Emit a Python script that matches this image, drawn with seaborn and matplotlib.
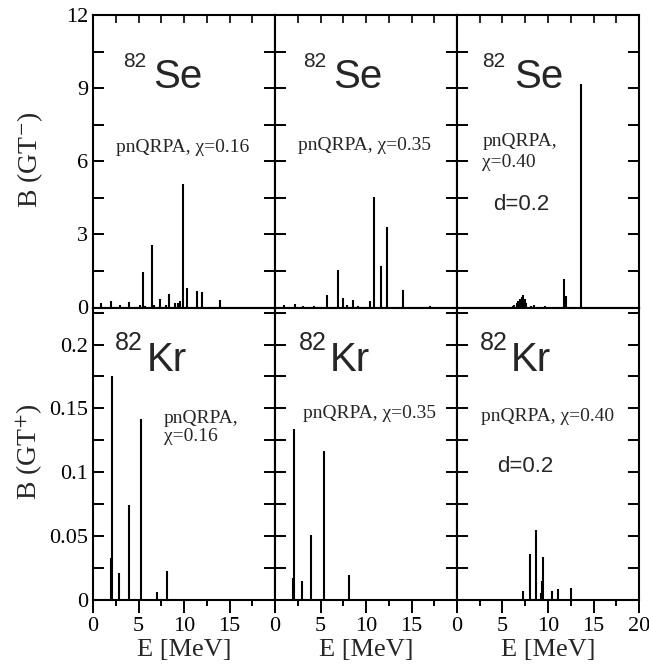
import matplotlib
matplotlib.use("Agg")
import matplotlib.pyplot as plt
from matplotlib.ticker import MultipleLocator, FixedLocator, FixedFormatter
import numpy as np
import pandas as pd
import seaborn as sns

# ---------------- data ----------------
nuclei = ["Se", "Kr"]
chis = ["0.16", "0.35", "0.40"]

se_016_E = [0.88, 1.98, 2.93, 4.0, 5.2, 5.46, 5.75, 6.48, 6.7, 7.33, 8.0, 8.35, 9.05, 9.34, 9.52, 9.93, 10.33, 11.43, 11.94, 13.92]
se_016_B = [0.19, 0.25, 0.12, 0.22, 0.10, 1.47, 0.07, 2.58, 0.12, 0.34, 0.10, 0.55, 0.18, 0.18, 0.25, 5.05, 0.79, 0.67, 0.63, 0.30]

se_035_E = [1.03, 2.16, 3.08, 4.25, 5.75, 6.96, 7.47, 7.88, 8.53, 9.12, 10.4, 10.92, 11.68, 12.27, 14.1, 17.0]
se_035_B = [0.11, 0.14, 0.05, 0.08, 0.50, 1.55, 0.40, 0.10, 0.29, 0.07, 0.26, 4.53, 1.72, 3.32, 0.71, 0.05]

se_040_E = [6.13, 6.3, 6.56, 6.67, 6.92, 7.03, 7.14, 7.29, 7.44, 7.55, 8.17, 8.46, 9.63, 11.76, 11.98, 13.66]
se_040_B = [0.05, 0.10, 0.20, 0.25, 0.35, 0.35, 0.45, 0.53, 0.35, 0.20, 0.07, 0.10, 0.05, 1.15, 0.46, 9.16]

kr_016_E = [1.94, 2.09, 2.89, 3.96, 5.24, 7.07, 8.1]
kr_016_B = [0.033, 0.175, 0.021, 0.074, 0.142, 0.006, 0.023]

kr_035_E = [1.98, 2.12, 2.93, 3.92, 5.35, 8.17]
kr_035_B = [0.017, 0.134, 0.015, 0.051, 0.117, 0.0195]

kr_040_E = [7.29, 8.06, 8.72, 9.23, 9.38, 9.5, 10.44, 11.06, 12.49]
kr_040_B = [0.007, 0.036, 0.055, 0.0052, 0.015, 0.034, 0.007, 0.009, 0.0094]

top_yticks = [0, 3, 6, 9, 12]
bot_yticks = [0, 0.05, 0.1, 0.15, 0.2]
bot_yticklabels = ["0", "0.05", "0.1", "0.15", "0.2"]
xticks = [0, 5, 10, 15, 20]

series = [
    ("Se", "0.16", se_016_E, se_016_B),
    ("Se", "0.35", se_035_E, se_035_B),
    ("Se", "0.40", se_040_E, se_040_B),
    ("Kr", "0.16", kr_016_E, kr_016_B),
    ("Kr", "0.35", kr_035_E, kr_035_B),
    ("Kr", "0.40", kr_040_E, kr_040_B),
]
frames = []
for nuc, chi, E, B in series:
    frames.append(pd.DataFrame({"nucleus": nuc, "chi": chi, "E": E, "B": B}))
df = pd.concat(frames, ignore_index=True)

# ---------------- style ----------------
sns.set_theme(style="ticks")
plt.rcParams["font.family"] = ["Liberation Serif", "DejaVu Serif"]
plt.rcParams["mathtext.fontset"] = "stix"
plt.rcParams["axes.linewidth"] = 1.5

W, H = 6.49, 6.69
g = sns.FacetGrid(df, row="nucleus", col="chi", row_order=nuclei, col_order=chis,
                  sharex=False, sharey=False, height=H / 2, aspect=(W / 3) / (H / 2),
                  despine=False, gridspec_kws={"wspace": 0, "hspace": 0})


def stems(data, color=None, **kw):
    ax = plt.gca()
    ax.vlines(data["E"], 0, data["B"], colors="black", linewidth=1.5)


g.map_dataframe(stems)
g.figure.subplots_adjust(left=93 / 649, right=639 / 649, top=1 - 15 / 669,
                         bottom=1 - 600 / 669, wspace=0, hspace=0)

for ax in g.axes.flat:
    ax.set_title("")
    ax.set_xlabel("")
    ax.set_ylabel("")
    for s in ax.spines.values():
        s.set_linewidth(1.5)
        s.set_color("black")

for i, row in enumerate(g.axes):
    for j, ax in enumerate(row):
        ax.set_xlim(0, 20)
        ax.xaxis.set_major_locator(FixedLocator(xticks))
        ax.xaxis.set_minor_locator(MultipleLocator(2.5))
        if i == 0:
            ax.set_ylim(0, 12)
            ax.yaxis.set_major_locator(FixedLocator(top_yticks))
            ax.yaxis.set_minor_locator(MultipleLocator(1.5))
            ax.tick_params(axis="x", which="both", top=True, bottom=False,
                           direction="in", labelbottom=False, labeltop=False)
            ax.tick_params(axis="x", which="major", length=6, width=1.4)
            ax.tick_params(axis="x", which="minor", length=6, width=1.4)
        else:
            ax.set_ylim(0, 0.229)
            ax.yaxis.set_major_locator(FixedLocator(bot_yticks))
            ax.yaxis.set_major_formatter(FixedFormatter(bot_yticklabels))
            ax.yaxis.set_minor_locator(MultipleLocator(0.025))
            labs = ["0", "5", "10", "15", "20" if j == 2 else ""]
            ax.xaxis.set_major_formatter(FixedFormatter(labs))
            ax.tick_params(axis="x", which="both", top=False, bottom=True,
                           direction="out", labelbottom=True, labelsize=16,
                           pad=3, colors="black")
            ax.tick_params(axis="x", which="major", length=9, width=1.4)
            ax.tick_params(axis="x", which="minor", length=4, width=1.4)
        ax.tick_params(axis="y", which="both", left=True, right=True,
                       direction="in", length=8, width=1.4,
                       labelleft=(j == 0), labelright=False, labelsize=16,
                       colors="black")
        ax.tick_params(axis="y", which="minor", length=8)

# ---------------- annotations ----------------
sans = ["Liberation Sans", "DejaVu Sans"]
se_pos = [(0.165, 0.333), (0.155, 0.317), (0.138, 0.315)]
kr_pos = [(0.122, 0.295), (0.130, 0.299), (0.124, 0.293)]
for j in range(3):
    ax = g.axes[0][j]
    x82, xs = se_pos[j]
    ax.text(x82, 0.822, "82", transform=ax.transAxes, fontsize=15, family=sans,
            va="baseline", ha="left")
    ax.text(xs, 0.75, "Se", transform=ax.transAxes, fontsize=29, family=sans,
            va="baseline", ha="left")
    ax = g.axes[1][j]
    x82, xs = kr_pos[j]
    ax.text(x82, 0.854, "82", transform=ax.transAxes, fontsize=18, family=sans,
            va="baseline", ha="left")
    ax.text(xs, 0.782, "Kr", transform=ax.transAxes, fontsize=29, family=sans,
            va="baseline", ha="left")

txt = dict(fontsize=14, va="baseline", ha="left")
a = g.axes
a[0][0].text(0.126, 0.533, "pnQRPA, χ=0.16", transform=a[0][0].transAxes, **txt)
a[0][1].text(0.128, 0.539, "pnQRPA, χ=0.35", transform=a[0][1].transAxes, **txt)
a[0][2].text(0.140, 0.553, "pnQRPA,", transform=a[0][2].transAxes, **txt)
a[0][2].text(0.140, 0.482, "χ=0.40", transform=a[0][2].transAxes, **txt)
a[0][2].text(0.196, 0.334, "d=0.2", transform=a[0][2].transAxes, fontsize=16,
             family=sans, va="baseline", ha="left")
a[1][0].text(0.390, 0.605, "pnQRPA,", transform=a[1][0].transAxes, **txt)
a[1][0].text(0.390, 0.542, "χ=0.16", transform=a[1][0].transAxes, **txt)
a[1][1].text(0.155, 0.622, "pnQRPA, χ=0.35", transform=a[1][1].transAxes, **txt)
a[1][2].text(0.134, 0.611, "pnQRPA, χ=0.40", transform=a[1][2].transAxes, **txt)
a[1][2].text(0.220, 0.436, "d=0.2", transform=a[1][2].transAxes, fontsize=16,
             family=sans, va="baseline", ha="left")

fig = g.figure
fig.text(30 / 649, 1 - 160 / 669, r"B (GT$^{-}$)", rotation=90, fontsize=20,
         ha="center", va="center")
fig.text(30 / 649, 1 - 452 / 669, r"B (GT$^{+}$)", rotation=90, fontsize=20,
         ha="center", va="center")
for j, cx in enumerate([184, 366, 548]):
    fig.text(cx / 649, 1 - 650 / 669, "E [MeV]", fontsize=19, ha="center",
             va="center")

fig.savefig("out.png", dpi=100)
